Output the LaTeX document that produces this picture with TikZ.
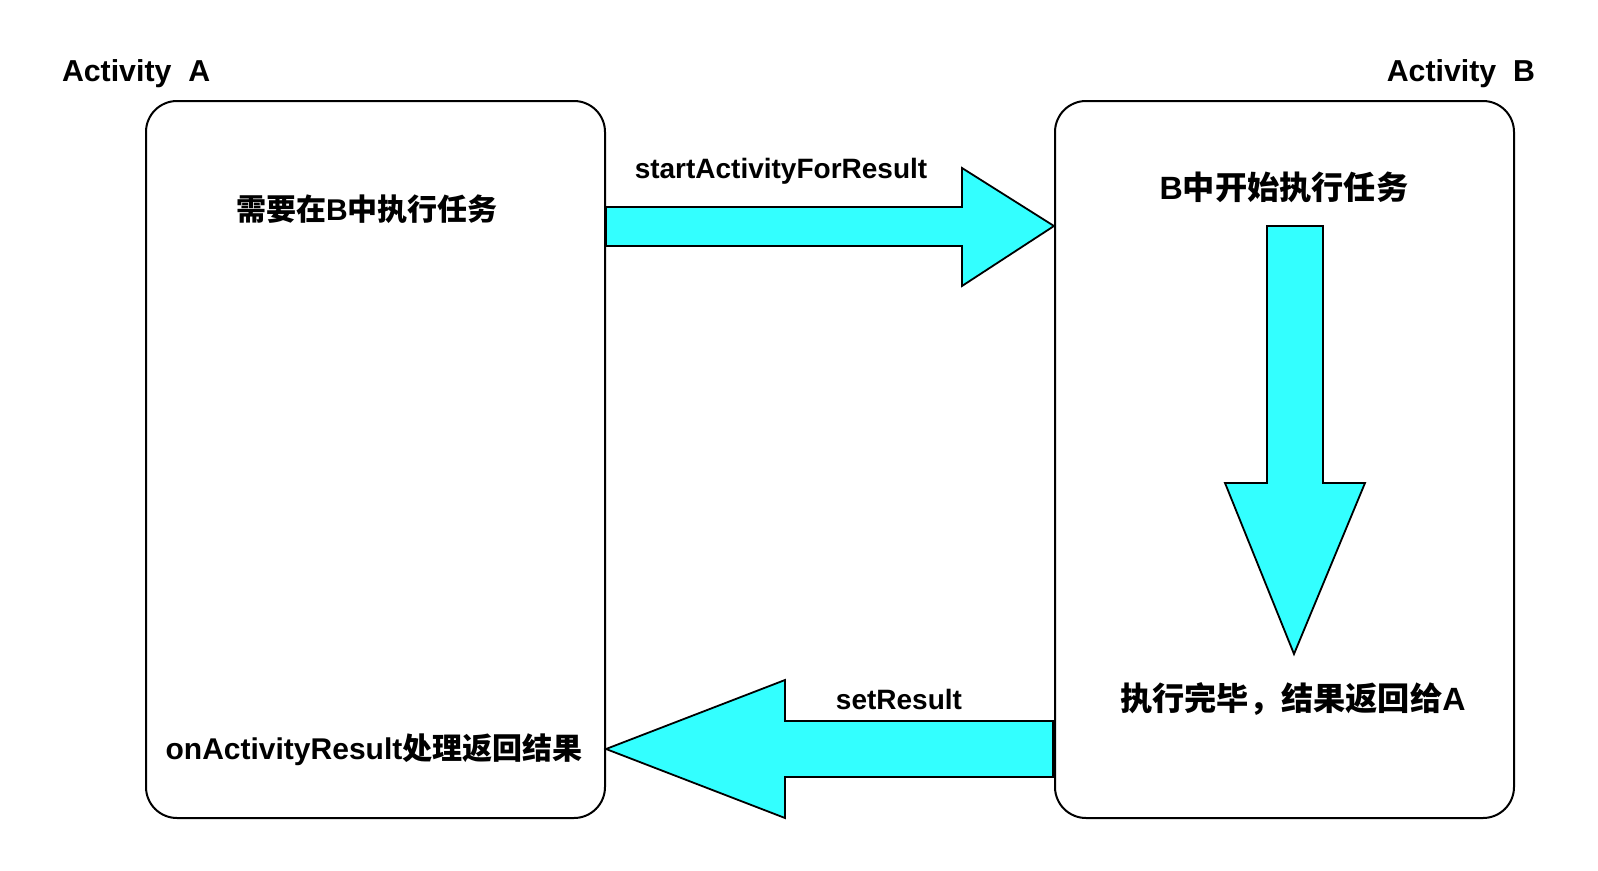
\documentclass[tikz,border=0pt]{standalone}
\usepackage{fontspec}
\setmainfont{Liberation Sans}
\newfontfamily\cjk{Noto Sans CJK SC}
\definecolor{arrowcyan}{HTML}{33FFFF}
\newcommand{\zh}[1]{{\cjk\bfseries #1}}

\begin{document}
\begin{tikzpicture}[x=1pt,y=-1pt,line width=2pt,
  actbox/.style={draw,rounded corners=31pt,minimum width=459pt,minimum height=717pt,inner sep=0pt},
  blockarrow/.style={draw,line width=1.8pt,fill=arrowcyan,line join=miter},
  lbl/.style={inner sep=0pt,font=\fontsize{28}{32}\selectfont\bfseries},
  title/.style={inner sep=0pt,font=\fontsize{30.3}{34}\selectfont\bfseries},
  boxtxt/.style={inner sep=0pt,font=\fontsize{30}{34}\selectfont\bfseries},
  boxtxtB/.style={inner sep=0pt,font=\fontsize{32.2}{36}\selectfont\bfseries}]
\path[use as bounding box,fill=white] (0,0) rectangle (1598,870);
% the two activities
\node[actbox] (boxA) at (375.5,459.5) {};
\node[actbox] (boxB) at (1284.5,459.5) {};
\node[title,anchor=west] (titleA) at (61,74) {Activity~~A};
\node[title,anchor=east] (titleB) at (1536,74) {Activity~~B};
% texts inside
\node[boxtxt] (needA) at (367,209) {\zh{需要在}B\zh{中执行任务}};
\node[boxtxtB] (startB) at (1284,187) {B\zh{中开始执行任务}};
\node[boxtxtB] (doneB) at (1293,699) {\zh{执行完毕，结果返回给}A};
\node[boxtxt] (resA) at (374,750) {onActivityResult\zh{处理返回结果}};
% block arrows
\draw[blockarrow] (boxA.east |- 0,207) -- (962,207) -- (962,168) -- (boxB.west |- 0,226)
  -- (962,286) -- (962,246) -- (boxA.east |- 0,246) -- cycle;
\draw[blockarrow] (1267,226) -- (1323,226) -- (1323,483) -- (1365,483) -- (1294,654)
  -- (1225,483) -- (1267,483) -- cycle;
\draw[blockarrow] (1053,721) -- (785,721) -- (785,680) -- (boxA.east |- 0,749)
  -- (785,818) -- (785,777) -- (1053,777) -- cycle;
\node[lbl] (callB) at (781,171) {startActivityForResult};
\node[lbl] (backA) at (899,699) {setResult};
\end{tikzpicture}
\end{document}
